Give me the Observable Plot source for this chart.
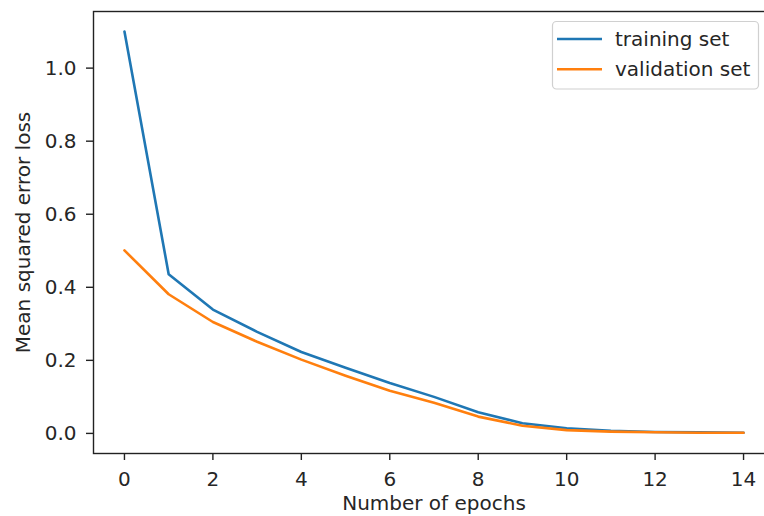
<!DOCTYPE html>
<html>
<head>
<meta charset="utf-8">
<script src="https://cdn.jsdelivr.net/npm/d3@7"></script>
<script src="https://cdn.jsdelivr.net/npm/@observablehq/plot@0.6"></script>
<style>
  html, body { margin: 0; padding: 0; background: #fff; }
  #chart { position: relative; width: 764px; height: 516px; overflow: hidden; }
</style>
</head>
<body>
<div id="chart"></div>
<script>
const epochs = [0, 1, 2, 3, 4, 5, 6, 7, 8, 9, 10, 11, 12, 13, 14];
const trainingLoss = [1.10, 0.436, 0.339, 0.278, 0.223, 0.180, 0.138, 0.100, 0.058, 0.028, 0.014, 0.007, 0.004, 0.003, 0.002];
const validationLoss = [0.501, 0.381, 0.305, 0.251, 0.202, 0.158, 0.117, 0.084, 0.046, 0.021, 0.009, 0.005, 0.003, 0.002, 0.002];
const seriesNames = ["training set", "validation set"];
const seriesColors = ["#1f77b4", "#ff7f0e"];
const xTicks = [0, 2, 4, 6, 8, 10, 12, 14];
const yTicks = [0.0, 0.2, 0.4, 0.6, 0.8, 1.0];
const xLabel = "Number of epochs";
const yLabel = "Mean squared error loss";

const rows = [];
epochs.forEach((e, i) => {
  rows.push({epoch: e, loss: trainingLoss[i], series: seriesNames[0]});
  rows.push({epoch: e, loss: validationLoss[i], series: seriesNames[1]});
});

const font = "DejaVu Sans, sans-serif";
const fs = 20;
const textColor = "#262626";

const plot = Plot.plot({
  width: 764,
  height: 516,
  marginLeft: 93,
  marginRight: -10,
  marginTop: 11,
  marginBottom: 63,
  style: {fontFamily: font, fontSize: fs + "px", background: "#fff", color: textColor, overflow: "visible"},
  x: {domain: [-0.7, 14.7]},
  y: {domain: [-0.055, 1.155]},
  color: {domain: seriesNames, range: seriesColors},
  marks: [
    Plot.line(rows, {x: "epoch", y: "loss", stroke: "series", strokeWidth: 2.6, z: "series"}),
    Plot.frame({stroke: "#222", strokeWidth: 1.4}),
    Plot.axisX({ticks: xTicks, tickSize: 7, tickPadding: 11, tickFormat: d3.format("d"), label: null, fontSize: fs, stroke: "#222", strokeWidth: 1.4, fill: textColor}),
    Plot.axisY({ticks: yTicks, tickSize: 7, tickPadding: 10, tickFormat: d3.format(".1f"), label: null, fontSize: fs, stroke: "#222", strokeWidth: 1.4, fill: textColor}),
    Plot.text([xLabel], {frameAnchor: "bottom", textAnchor: "middle", dy: 50, text: d => d, fontSize: fs, fill: textColor, lineAnchor: "middle"}),
    Plot.text([yLabel], {frameAnchor: "left", textAnchor: "middle", dx: -70, rotate: -90, text: d => d, fontSize: fs, fill: textColor, lineAnchor: "middle"})
  ]
});

// Legend (matplotlib-style, upper right)
const svg = d3.select(plot);
const lg = svg.append("g").attr("font-family", font).attr("font-size", fs).attr("text-anchor", "start");
lg.append("rect")
  .attr("x", 552.5).attr("y", 21.5).attr("width", 206).attr("height", 67.5)
  .attr("rx", 4).attr("fill", "#fff").attr("fill-opacity", 0.8)
  .attr("stroke", "#d0d0d0").attr("stroke-width", 1.2);
seriesNames.forEach((name, i) => {
  const cy = 39 + i * 30.3;
  lg.append("line").attr("x1", 557).attr("x2", 602).attr("y1", cy).attr("y2", cy)
    .attr("stroke", seriesColors[i]).attr("stroke-width", 2.6);
  lg.append("text").attr("x", 615).attr("y", cy).attr("dy", "0.35em")
    .attr("text-anchor", "start").attr("fill", textColor).text(name);
});

document.getElementById("chart").appendChild(plot);
</script>
</body>
</html>
